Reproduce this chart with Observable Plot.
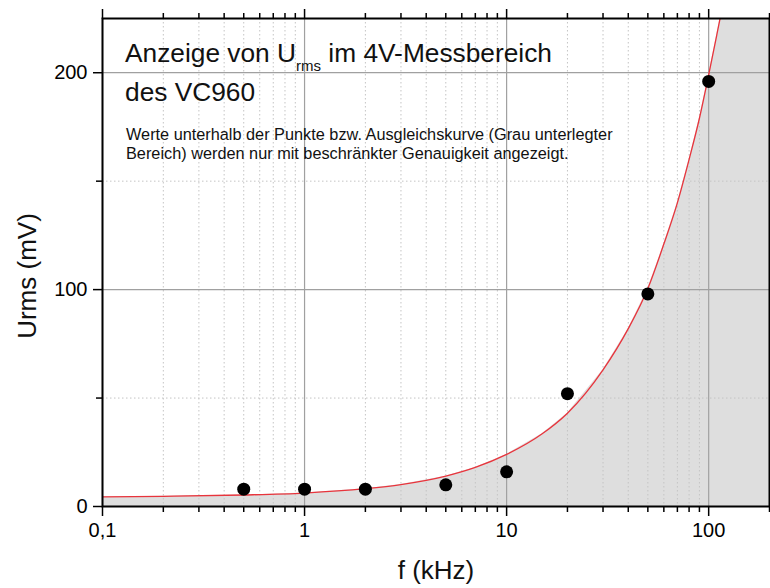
<!DOCTYPE html>
<html>
<head>
<meta charset="utf-8">
<script src="https://cdn.jsdelivr.net/npm/d3@7"></script>
<script src="https://cdn.jsdelivr.net/npm/@observablehq/plot@0.6"></script>
<style>
  html, body { margin: 0; padding: 0; background: white; }
</style>
</head>
<body>
<div id="chart"></div>
<script>
// Measured points (f in kHz, Urms in mV)
const pointF = [0.5, 1, 2, 5, 10, 20, 50, 100];
const pointU = [8, 8, 8, 10, 16, 52, 98, 196];

// Fit curve values
const curveF = [0.1, 0.2, 0.5, 1, 2, 3, 5, 7, 10, 15, 20, 30, 40, 50, 60, 70, 80, 90, 100, 110, 115];
const curveU = [4.4, 4.7, 5.3, 6.2, 8.2, 10.1, 14, 18, 24, 33.5, 43, 63, 82, 100.5, 121, 140, 160, 179, 199, 218, 227];

// Ticks
const majorX = [0.1, 1, 10, 100];
const minorX = [0.2, 0.3, 0.4, 0.5, 0.6, 0.7, 0.8, 0.9, 2, 3, 4, 5, 6, 7, 8, 9, 20, 30, 40, 50, 60, 70, 80, 90, 200];
const majorY = [0, 100, 200];
const minorY = [50, 150];

const xDomain = [0.1, 200];
const yDomain = [0, 225];

const points = pointF.map((f, i) => ({f, u: pointU[i]}));
const curve = curveF.map((f, i) => ({f, u: curveU[i]}));
const area = [...curve, {f: xDomain[1], u: curveU[curveU.length - 1]}];

const font = "'Liberation Sans', Arial, Helvetica, sans-serif";
const blank = () => "";

const chart = Plot.plot({
  width: 770,
  height: 588,
  marginLeft: 102,
  marginRight: 1,
  marginTop: 18,
  marginBottom: 82,
  style: {fontFamily: font, background: "white", color: "black"},
  x: {type: "log", domain: xDomain},
  y: {domain: yDomain},
  marks: [
    Plot.areaY(area, {x: "f", y: "u", fill: "#dedede", clip: true}),
    Plot.gridX(minorX, {stroke: "#c4c4c4", strokeOpacity: 1, strokeDasharray: "1.5,2.5"}),
    Plot.gridY(minorY, {stroke: "#c4c4c4", strokeOpacity: 1, strokeDasharray: "1.5,2.5"}),
    Plot.gridX(majorX, {stroke: "#a0a0a0", strokeOpacity: 1, strokeWidth: 1.2}),
    Plot.gridY(majorY, {stroke: "#a0a0a0", strokeOpacity: 1, strokeWidth: 1.2}),
    Plot.line(curve, {x: "f", y: "u", stroke: "#e8343c", strokeWidth: 1.3, curve: "monotone-x", clip: true}),
    Plot.dot(points, {x: "f", y: "u", r: 6.5, fill: "black", stroke: "none"}),
    Plot.axisX(majorX, {anchor: "bottom", tickSize: 10, tickPadding: 6, fontSize: 20, strokeWidth: 1.5,
      tickFormat: d => String(d).replace(".", ","), label: null}),
    Plot.axisX(minorX, {anchor: "bottom", tickSize: 6, strokeWidth: 1.5, tickFormat: blank, label: null}),
    Plot.axisX(majorX, {anchor: "top", tickSize: 10, strokeWidth: 1.5, tickFormat: blank, label: null}),
    Plot.axisX(minorX, {anchor: "top", tickSize: 6, strokeWidth: 1.5, tickFormat: blank, label: null}),
    Plot.axisY(majorY, {anchor: "left", tickSize: 9, tickPadding: 6, fontSize: 20, strokeWidth: 1.5, label: null}),
    Plot.axisY(minorY, {anchor: "left", tickSize: 6, strokeWidth: 1.5, tickFormat: blank, label: null}),
    Plot.frame({stroke: "black", strokeWidth: 2})
  ]
});

document.getElementById("chart").appendChild(chart);

const svg = d3.select(chart);
const t1 = svg.append("text").attr("x", 125).attr("y", 62).attr("text-anchor", "start")
  .attr("font-family", font).attr("font-size", 26.3).attr("fill", "#111");
t1.append("tspan").text("Anzeige von U");
t1.append("tspan").attr("font-size", 15).attr("dy", 9).text("rms");
t1.append("tspan").attr("dy", -9).text(" im 4V-Messbereich");

svg.append("text").attr("x", 125).attr("y", 101).attr("text-anchor", "start")
  .attr("font-family", font).attr("font-size", 26.3).attr("fill", "#111").text("des VC960");

svg.append("text").attr("x", 126).attr("y", 140).attr("text-anchor", "start")
  .attr("font-family", font).attr("font-size", 16.3).attr("fill", "#111")
  .text("Werte unterhalb der Punkte bzw. Ausgleichskurve (Grau unterlegter");
svg.append("text").attr("x", 126).attr("y", 159).attr("text-anchor", "start")
  .attr("font-family", font).attr("font-size", 16.3).attr("fill", "#111")
  .text("Bereich) werden nur mit beschränkter Genauigkeit angezeigt.");

svg.append("text").attr("x", 436).attr("y", 579).attr("text-anchor", "middle")
  .attr("font-family", font).attr("font-size", 26).attr("fill", "#111").text("f (kHz)");

svg.append("text").attr("transform", "translate(36,276) rotate(-90)").attr("text-anchor", "middle")
  .attr("font-family", font).attr("font-size", 26).attr("fill", "#111").text("Urms (mV)");
</script>
</body>
</html>
